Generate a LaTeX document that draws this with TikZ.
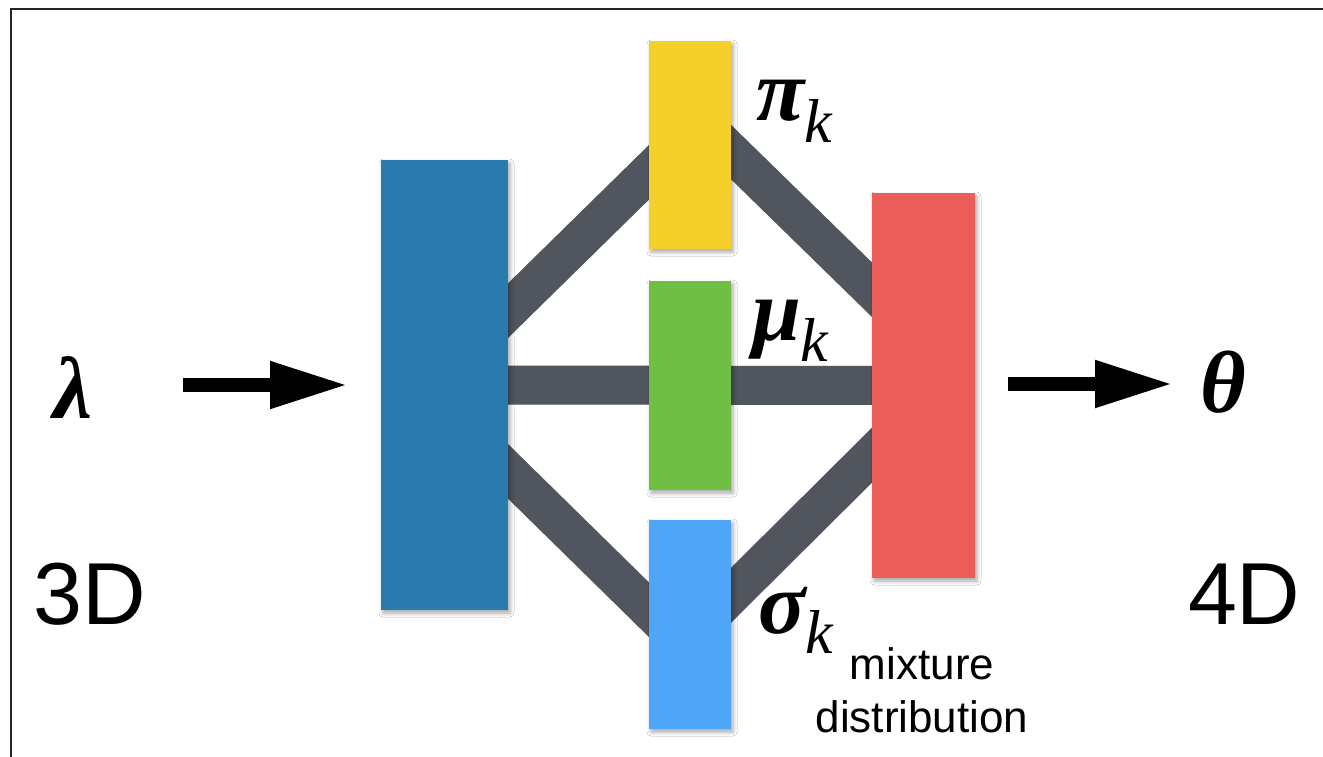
\documentclass[tikz,border=0pt]{standalone}
\usepackage{fontspec}
\setmainfont{Liberation Serif}
\newfontfamily\sansf{Liberation Sans}
\usetikzlibrary{arrows.meta,shadows.blur}
\definecolor{cblue}{HTML}{2A7AB0}
\definecolor{cyellow}{HTML}{F5D02A}
\definecolor{cgreen}{HTML}{6FBF45}
\definecolor{clblue}{HTML}{4FA6F8}
\definecolor{cred}{HTML}{EA5D58}
\definecolor{cbar}{HTML}{50555E}
\newcommand\gk{\fontsize{88}{96}\selectfont\bfseries\itshape}
\newcommand\kk{\fontsize{62}{66}\selectfont\mdseries\itshape}
\tikzset{
  box/.style={inner sep=0pt, outer sep=0pt, draw=none,
    blur shadow={shadow xshift=2pt, shadow yshift=-3pt, shadow blur radius=4pt, shadow opacity=35}},
  bar/.style={line width=39pt, draw=cbar, line cap=butt},
  barshadow/.style={line width=39pt, draw=black, opacity=0.07, line cap=butt},
  bigarrow/.style={line width=14pt, -{Triangle[length=78pt,width=44pt]}},
  lbl/.style={inner sep=0pt, outer sep=0pt, anchor=base west},
  dimlbl/.style={inner sep=0pt, outer sep=0pt, anchor=base west, font=\sansf\fontsize{88}{100}\selectfont},
}
\begin{document}
\begin{tikzpicture}[x=1pt,y=-1pt]
\useasboundingbox (0,0) rectangle (1323,756);
\fill[white] (0,0) rectangle (1323,756);
% frame (only its left and top sides fall inside the picture)
\draw[line width=2pt, draw=black!85] (11,800) -- (11,9) -- (1360,9);
% box centres
\coordinate (bc) at (444.5,385);
\coordinate (yc) at (690,145);
\coordinate (gc) at (690,385.5);
\coordinate (lc) at (690,624.5);
\coordinate (rc) at (923.5,385.5);
% bar shadows
\begin{scope}[shift={(3,6)}]
\draw[barshadow] ([yshift=12pt]bc) -- ([yshift=13pt]yc);
\draw[barshadow] ([yshift=33pt]yc) -- ([yshift=45.5pt]rc);
\draw[barshadow] (bc) -- (rc);
\draw[barshadow] ([yshift=-24pt]bc) -- ([yshift=-25.5pt]lc);
\draw[barshadow] ([yshift=-11.5pt]lc) -- ([yshift=-18.5pt]rc);
\end{scope}
% bars
\draw[bar] ([yshift=12pt]bc) -- ([yshift=13pt]yc);
\draw[bar] ([yshift=33pt]yc) -- ([yshift=45.5pt]rc);
\draw[bar] (bc) -- (rc);
\draw[bar] ([yshift=-24pt]bc) -- ([yshift=-25.5pt]lc);
\draw[bar] ([yshift=-11.5pt]lc) -- ([yshift=-18.5pt]rc);
% boxes
\node[box, fill=cblue, minimum width=127pt, minimum height=450pt] (B) at (bc) {};
\node[box, fill=cyellow, minimum width=82pt, minimum height=208pt] (Y) at (yc) {};
\node[box, fill=cgreen, minimum width=82pt, minimum height=209pt] (G) at (gc) {};
\node[box, fill=clblue, minimum width=82pt, minimum height=209pt] (L) at (lc) {};
\node[box, fill=cred, minimum width=103pt, minimum height=385pt] (R) at (rc) {};
% arrows
\coordinate (a1) at (183,385);
\coordinate (a2) at (348,385);
\coordinate (a3) at (1008,384);
\coordinate (a4) at (1173,384);
\draw[bigarrow] (a1) -- (a2);
\draw[bigarrow] (a3) -- (a4);
% labels
\node[lbl] (lam) at (53,418) {\gk λ};
\node[lbl] (th) at (1200,412) {\gk θ};
\node[lbl] (pi) at (756,120) {{\gk π}\raisebox{-22pt}{\kk k}};
\node[lbl] (mu) at (752,340) {{\gk μ}\raisebox{-21pt}{\kk k}};
\node[lbl] (sg) at (758,633) {{\gk σ}\raisebox{-20pt}{\kk k}};
\node[dimlbl] (d3) at (34,624) {3D};
\node[dimlbl] (d4) at (1188,624) {4D};
\node[inner sep=0pt, anchor=north, align=center, font=\sansf\fontsize{44}{53}\selectfont] (mix) at (922,647) {mixture\\distribution};
\end{tikzpicture}
\end{document}
